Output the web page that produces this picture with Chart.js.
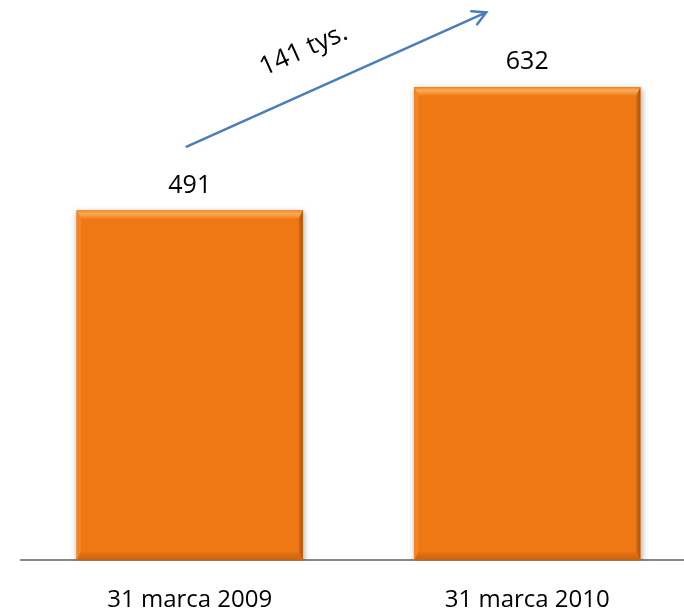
<!DOCTYPE html>
<html>
<head>
<meta charset="utf-8">
<script src="https://cdn.jsdelivr.net/npm/chart.js@4.4.1/dist/chart.umd.min.js"></script>
<style>
  html, body { margin: 0; padding: 0; background: #fff; overflow: hidden; }
  #wrap { width: 700px; height: 613px; }
</style>
</head>
<body>
<div id="wrap"><canvas id="chart" width="700" height="613"></canvas></div>
<script>
const categories = ['31 marca 2009', '31 marca 2010'];
const values = [491, 632];
const unit = 'tys.';

const orange = '#F07814';

// bevel look like the office chart (light top edge, darker sides/bottom)
const bevelPlugin = {
  id: 'bevel',
  beforeDatasetsDraw(chart) {
    const ctx = chart.ctx;
    ctx.save();
    ctx.shadowColor = 'rgba(0,0,0,0.35)';
    ctx.shadowBlur = 6;
    ctx.shadowOffsetX = 1;
    ctx.shadowOffsetY = 2;
  },
  afterDatasetsDraw(chart) {
    const ctx = chart.ctx;
    ctx.restore();
    chart.getDatasetMeta(0).data.forEach(bar => {
      const l = bar.x - bar.width / 2, r = bar.x + bar.width / 2;
      const t = bar.y, b = Math.min(bar.base, chart.chartArea.bottom);
      const e = 8, s = 4;
      // top
      let g = ctx.createLinearGradient(0, t, 0, t + e);
      g.addColorStop(0, '#F58C2C');
      g.addColorStop(0.4, '#FBAA55');
      g.addColorStop(1, '#F28020');
      ctx.fillStyle = g;
      ctx.beginPath();
      ctx.moveTo(l, t); ctx.lineTo(r, t); ctx.lineTo(r - s, t + e); ctx.lineTo(l + s, t + e);
      ctx.closePath(); ctx.fill();
      // left
      ctx.fillStyle = '#F3862A';
      ctx.beginPath();
      ctx.moveTo(l, t); ctx.lineTo(l + s, t + e); ctx.lineTo(l + s, b - e); ctx.lineTo(l, b);
      ctx.closePath(); ctx.fill();
      // right
      g = ctx.createLinearGradient(r - s, 0, r, 0);
      g.addColorStop(0, '#D9690F');
      g.addColorStop(1, '#A8560E');
      ctx.fillStyle = g;
      ctx.beginPath();
      ctx.moveTo(r, t); ctx.lineTo(r, b); ctx.lineTo(r - s, b - e); ctx.lineTo(r - s, t + e);
      ctx.closePath(); ctx.fill();
      // bottom
      g = ctx.createLinearGradient(0, b - e, 0, b);
      g.addColorStop(0, '#E7710F');
      g.addColorStop(1, '#C8640F');
      ctx.fillStyle = g;
      ctx.beginPath();
      ctx.moveTo(l, b); ctx.lineTo(r, b); ctx.lineTo(r - s, b - e); ctx.lineTo(l + s, b - e);
      ctx.closePath(); ctx.fill();
    });
  }
};

// value labels + growth arrow
const labelsPlugin = {
  id: 'valueLabels',
  afterDraw(chart) {
    const ctx = chart.ctx;
    const bars = chart.getDatasetMeta(0).data;
    ctx.save();
    ctx.fillStyle = '#000';
    ctx.font = '25px "Open Sans"';
    ctx.textAlign = 'center';
    ctx.textBaseline = 'alphabetic';
    bars.forEach((bar, i) => {
      ctx.fillText(String(values[i]), bar.x, bar.y - 18);
    });

    const x0 = bars[0].x - 3, y0 = bars[0].y - 64;
    const x1 = bars[1].x - 41, y1 = bars[1].y - 75;
    const ang = Math.atan2(y1 - y0, x1 - x0);
    ctx.strokeStyle = '#4A7EBB';
    ctx.lineWidth = 2.5;
    ctx.lineCap = 'round';
    ctx.beginPath();
    ctx.moveTo(x0, y0);
    ctx.lineTo(x1, y1);
    const h = 15, a = 0.5;
    ctx.moveTo(x1 - h * Math.cos(ang - a), y1 - h * Math.sin(ang - a));
    ctx.lineTo(x1, y1);
    ctx.lineTo(x1 - h * Math.cos(ang + a), y1 - h * Math.sin(ang + a));
    ctx.stroke();

    const mx = (x0 + x1) / 2, my = (y0 + y1) / 2;
    ctx.translate(mx, my);
    ctx.rotate(ang);
    ctx.font = '26px "Open Sans"';
    ctx.textBaseline = 'middle';
    ctx.fillText((values[1] - values[0]) + ' ' + unit, -18, -40);
    ctx.restore();
  }
};

const ctx = document.getElementById('chart').getContext('2d');
const chart = new Chart(ctx, {
  type: 'bar',
  data: {
    labels: categories,
    datasets: [{
      data: values,
      backgroundColor: orange,
      borderWidth: 0,
      barThickness: 226
    }]
  },
  options: {
    responsive: false,
    animation: false,
    layout: { padding: { left: 21, right: 4, top: 0, bottom: -28 } },
    plugins: {
      legend: { display: false },
      tooltip: { enabled: false }
    },
    scales: {
      x: {
        grid: { display: false, drawTicks: false },
        border: { display: true, color: '#888888', width: 2 },
        ticks: {
          color: '#000',
          font: { family: 'Open Sans', size: 24 },
          padding: 26
        }
      },
      y: {
        display: false,
        min: 91,
        max: 732
      }
    }
  },
  plugins: [bevelPlugin, labelsPlugin]
});
</script>
</body>
</html>
